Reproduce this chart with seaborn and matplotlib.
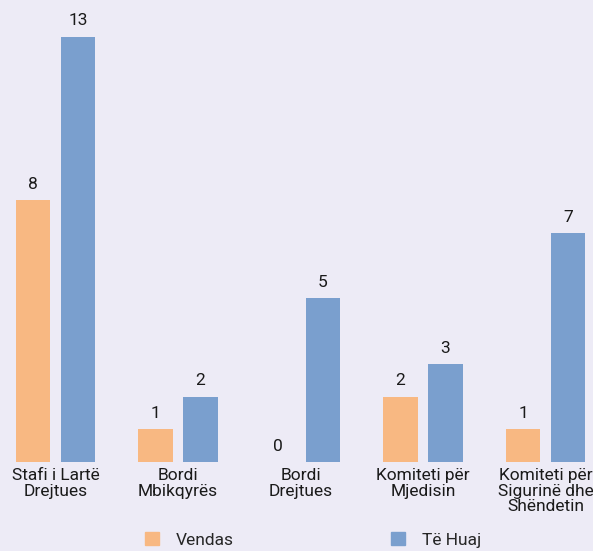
import numpy as np
import pandas as pd
import matplotlib
matplotlib.use("Agg")
import matplotlib.pyplot as plt
import matplotlib.patches as mpatches
import seaborn as sns

# te dhenat
kategorite = ["Stafi i Lartë\nDrejtues", "Bordi\nMbikqyrës", "Bordi\nDrejtues",
              "Komiteti për\nMjedisin", "Komiteti për\nSigurinë dhe\nShëndetin"]
vendas = [8, 1, 0, 2, 1]
te_huaj = [13, 2, 5, 3, 7]
seri = ["Vendas", "Të Huaj"]
ngjyra = ["#F8B882", "#7A9FCE"]

df = pd.DataFrame({
    "kategoria": kategorite * 2,
    "vlera": vendas + te_huaj,
    "seria": [seri[0]] * len(vendas) + [seri[1]] * len(te_huaj),
})

sns.set_theme(style="white")
plt.rcParams["font.family"] = ["Roboto", "DejaVu Sans"]
bg = "#EDEBF6"
fs = 12.5

fig = plt.figure(figsize=(5.93, 5.51), dpi=100, facecolor=bg)
ax = fig.add_axes([0, 89 / 551, 1, 462 / 551])
ax.set_facecolor(bg)

sns.barplot(data=df, x="kategoria", y="vlera", hue="seria", palette=ngjyra,
            width=0.735, gap=0.24, saturation=1, linewidth=0, ax=ax, legend=False)

for c in ax.containers:
    ax.bar_label(c, padding=6, fontsize=fs, color="#1a1a1a")

ax.set_xlim(-0.453, 4.388)
ax.set_ylim(0, 14.12)
ax.set_xlabel("")
ax.set_ylabel("")
ax.set_yticks([])
ax.tick_params(axis="x", length=0, pad=4, labelsize=fs, labelcolor="#1a1a1a")
for t in ax.get_xticklabels():
    t.set_linespacing(1.08)
sns.despine(ax=ax, left=True, bottom=True)

handles = [mpatches.Patch(color=ngjyra[0], label=seri[0]),
           mpatches.Patch(color=ngjyra[1], label=seri[1])]
fig.legend(handles=handles, loc="center", bbox_to_anchor=(313 / 593, 11 / 551),
           ncol=2, frameon=False, fontsize=fs, handlelength=0.8,
           handleheight=0.8, handletextpad=0.95, columnspacing=9.1)

fig.savefig("out.png", dpi=100, facecolor=bg)
